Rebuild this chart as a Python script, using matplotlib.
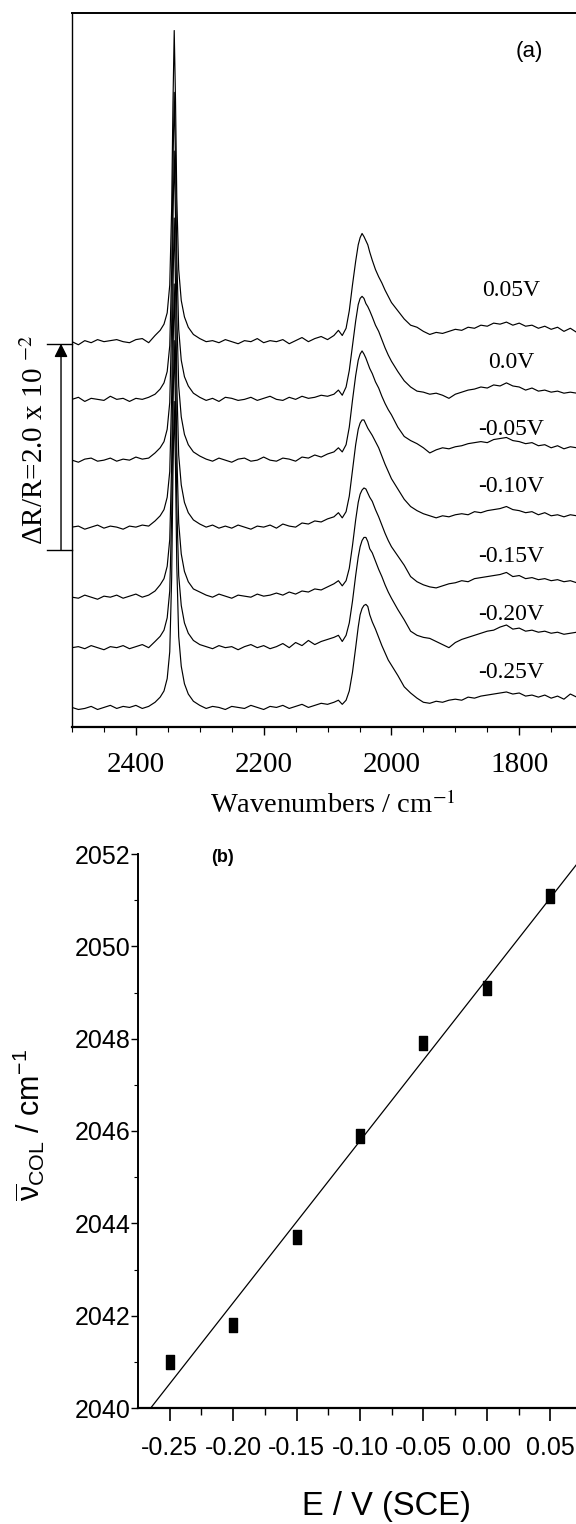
import numpy as np
import matplotlib
matplotlib.use("Agg")
import matplotlib.pyplot as plt
from matplotlib.path import Path
from matplotlib import transforms
from matplotlib.ticker import MultipleLocator, FixedLocator, FuncFormatter

plt.rcParams['axes.unicode_minus'] = False
plt.rcParams['mathtext.fontset'] = 'custom'
plt.rcParams['mathtext.rm'] = 'Liberation Sans'
plt.rcParams['mathtext.it'] = 'Liberation Sans:italic'
plt.rcParams['mathtext.bf'] = 'Liberation Sans:bold'

SERIF = ['Liberation Serif', 'DejaVu Serif']
SANS = ['Liberation Sans', 'DejaVu Sans']

# ---------------- panel (a): IR spectra, dR/R in units of 1e-4 ----------------
wavenumber = [2500, 2490, 2480, 2470, 2460, 2450, 2440, 2430, 2420, 2410, 2400, 2390, 2380, 2370,
              2362, 2356, 2351, 2347, 2344, 2342, 2340, 2338, 2336, 2333, 2329, 2324, 2318, 2310,
              2300, 2290, 2280, 2270, 2260, 2250, 2240, 2230, 2220, 2210, 2200, 2190, 2180, 2170,
              2160, 2150, 2140, 2130, 2120, 2110, 2100, 2090,
              2083, 2077, 2071, 2066, 2061, 2056, 2052, 2049, 2046, 2043, 2040, 2037, 2034, 2030,
              2025, 2020, 2015, 2010, 2005, 2000,
              1990, 1980, 1970, 1960, 1950, 1940, 1930, 1920, 1910, 1900, 1890, 1880, 1870, 1860,
              1850, 1840, 1830, 1820, 1810, 1800, 1790, 1780, 1770, 1760, 1750, 1740, 1730, 1720,
              1710, 1700]

spec_p005 = [0, -3, 1, -1, 2, 0, 1, 2, 0, -1, 2, 3, -1, 6,
             11, 17, 28, 55, 130, 230, 302, 235, 140, 70, 40, 24, 14, 7,
             3, 0, 1, -1, 2, 0, -2, 1, 0, 3, -1, 1, 0, 2, -2, 1, 4, 0, 3, 5, 2, 6,
             11, 6, 13, 30, 55, 78, 94, 101, 105, 102, 98, 94, 87, 79, 70, 63, 57, 50, 44, 38,
             30, 22, 16, 14, 10, 7, 9, 8, 10, 12, 11, 14, 13, 16, 15, 18, 17, 19, 16, 18,
             15, 16, 13, 15, 12, 14, 10, 13, 9, 11]
spec_000 = [0, 2, -2, 1, 0, -1, 3, 0, 1, -2, 1, 0, 2, 5,
            10, 16, 27, 52, 125, 225, 298, 232, 138, 68, 38, 22, 13, 6,
            2, -1, 1, -2, 2, 1, -1, 0, 2, -1, 1, 3, 0, -1, 2, 0, 3, 1, 2, 4, 3, 5,
            9, 4, 12, 28, 52, 76, 92, 98, 100, 98, 93, 90, 86, 80, 72, 66, 58, 50, 43, 37,
            27, 18, 12, 8, 7, 5, 6, 4, 1, 5, 7, 9, 10, 12, 11, 14, 13, 16, 13, 12,
            9, 11, 8, 9, 7, 8, 6, 7, 6, 7]
spec_m005 = [0, -2, 1, 2, -1, 0, 2, -1, 1, 0, 3, 1, 2, 7,
             12, 18, 30, 56, 132, 232, 300, 236, 142, 72, 42, 25, 15, 8,
             4, 1, -1, 2, 0, -2, 1, 2, -1, 0, 3, 0, -1, 2, 1, -1, 3, 2, 5, 3, 6, 8,
             12, 8, 15, 32, 58, 82, 97, 103, 106, 103, 99, 94, 89, 84, 76, 70, 62, 55, 49, 44,
             32, 23, 19, 16, 12, 7, 10, 12, 11, 13, 14, 16, 17, 18, 17, 20, 21, 22, 19, 18,
             16, 17, 14, 15, 12, 14, 11, 13, 12, 10]
spec_m010 = [0, 1, -2, 0, 2, -1, 1, 0, -2, 1, 0, 2, 1, 6,
             11, 17, 29, 54, 128, 230, 300, 235, 140, 70, 41, 24, 14, 7,
             3, 0, 2, -1, 1, -1, 2, 0, -2, 1, 0, 2, -1, 3, 1, 0, 4, 3, 6, 5, 8, 10,
             14, 9, 15, 30, 55, 80, 95, 101, 104, 104, 100, 96, 93, 89, 83, 77, 69, 61, 54, 47,
             37, 27, 20, 16, 13, 11, 9, 11, 10, 12, 13, 12, 15, 14, 16, 17, 18, 20, 17, 16,
             14, 15, 12, 14, 11, 12, 10, 12, 11, 10]
spec_m015 = [0, -1, 2, 0, -2, 1, 0, 2, -1, 1, 3, 0, 2, 6,
             12, 18, 30, 56, 130, 232, 304, 238, 142, 72, 42, 25, 15, 8,
             5, 2, 0, 3, 1, -1, 2, 1, 0, 3, 1, 2, 4, 2, 5, 3, 6, 5, 8, 7, 10, 13,
             16, 11, 16, 28, 50, 75, 92, 100, 104, 106, 105, 101, 97, 93, 85, 78, 70, 62, 55, 49,
             40, 31, 20, 15, 12, 10, 9, 11, 13, 14, 16, 15, 18, 19, 20, 21, 22, 24, 20, 21,
             18, 19, 17, 18, 16, 17, 15, 16, 14, 15]
spec_m020 = [0, 1, -1, 2, 0, -2, 1, 0, 2, -1, 1, 3, 0, 6,
             11, 17, 29, 55, 128, 228, 298, 233, 139, 70, 41, 24, 14, 7,
             3, 1, -1, 2, 0, 1, -2, 1, 3, 0, 2, -1, 1, 4, 0, 5, 2, 7, 3, 6, 8, 10,
             12, 6, 12, 24, 45, 70, 88, 98, 104, 107, 107, 103, 96, 92, 84, 76, 69, 61, 54, 48,
             37, 27, 16, 12, 10, 9, 6, 3, 0, 5, 8, 10, 12, 14, 16, 17, 20, 22, 18, 19,
             16, 17, 15, 16, 14, 15, 13, 14, 15, 14]
spec_m025 = [0, -2, -1, 1, -2, 0, 2, -1, 1, 0, 2, -1, 1, 5,
             10, 16, 28, 54, 126, 226, 297, 232, 138, 69, 40, 23, 13, 6,
             2, -1, 1, 0, -2, 1, 0, -1, 2, 0, -2, 1, 0, 2, -1, 1, 3, 0, 2, 4, 3, 5,
             7, 3, 7, 16, 34, 58, 78, 90, 96, 99, 100, 98, 90, 83, 76, 68, 60, 53, 46, 41,
             31, 20, 14, 9, 5, 4, 6, 5, 7, 8, 7, 10, 9, 11, 12, 13, 14, 15, 13, 14,
             11, 12, 10, 12, 9, 11, 8, 13, 10, 11]

spectra = [spec_p005, spec_000, spec_m005, spec_m010, spec_m015, spec_m020, spec_m025]
potential_labels = ['0.05V', '0.0V', '-0.05V', '-0.10V', '-0.15V', '-0.20V', '-0.25V']
stack_offsets = [374, 318, 259, 194, 126, 77, 19]
label_lift = [50, 36, 30, 39, 39, 32, 34]
scale_bottom = 172
scale_length = 200   # 2.0 x 10^-2
wn_ticks = [2400, 2200, 2000, 1800]

# ---------------- panel (b): CO band centre vs potential ----------------
potential = [-0.25, -0.20, -0.15, -0.10, -0.05, 0.00, 0.05]
nu_col = [2041.0, 2041.8, 2043.7, 2045.9, 2047.9, 2049.1, 2051.1]
fit_range = [-0.2647, 0.08]

fig = plt.figure(figsize=(5.76, 15.24), dpi=100)
W, H = 576.0, 1524.0

# ---- panel a ----
ax1 = fig.add_axes([72 / W, 1 - 727 / H, (647 - 72) / W, (727 - 13) / H])
for spec, off in zip(spectra, stack_offsets):
    ax1.plot(wavenumber, off + np.array(spec), color='k', lw=0.85)
for lab, off, dy in zip(potential_labels, stack_offsets, label_lift):
    ax1.text(1813, off + dy, lab, ha='center', va='center', fontsize=17, family=SERIF)

ax1.set_xlim(2500, 1600)
ax1.set_ylim(0, 693)
ax1.set_yticks([])
ax1.xaxis.set_major_locator(FixedLocator(wn_ticks))
ax1.xaxis.set_minor_locator(MultipleLocator(50))
ax1.tick_params(axis='x', which='major', direction='out', length=5.8, width=1.0,
                labelsize=21, pad=12, labelfontfamily='Liberation Serif')
ax1.tick_params(axis='x', which='minor', direction='out', length=3.6, width=0.8)
ax1.spines['right'].set_visible(False)
ax1.spines['bottom'].set_linewidth(1.6)
ax1.spines['top'].set_linewidth(1.4)
ax1.spines['left'].set_linewidth(1.0)

# scale bar left of the axis
trans = transforms.blended_transform_factory(ax1.transAxes, ax1.transData)
bar_x = -0.0191
ax1.annotate('', xy=(bar_x, scale_bottom + scale_length), xytext=(bar_x, scale_bottom),
             xycoords=trans, textcoords=trans, annotation_clip=False,
             arrowprops=dict(arrowstyle='-|>,head_length=0.4,head_width=0.2', color='k',
                             lw=1.0, mutation_scale=20, shrinkA=0, shrinkB=0))
for yy in (scale_bottom, scale_bottom + scale_length):
    ax1.plot([-0.0435, 0], [yy, yy], color='k', lw=1.0, transform=trans, clip_on=False)

fig.text(35 / W, 1 - 440 / H, r'ΔR/R=2.0 x 10 $^{-2}$', rotation=90, ha='center', va='center',
         fontsize=21, family=SERIF, math_fontfamily='stix')
fig.text(333 / W, 1 - 805 / H, r'Wavenumbers / cm$^{-1}$', ha='center', va='center',
         fontsize=20.5, family=SERIF, math_fontfamily='stix')
fig.text(529 / W, 1 - 52 / H, '(a)', ha='center', va='center', fontsize=16, family=SANS)

# ---- panel b ----
ax2 = fig.add_axes([138 / W, 1 - 1408 / H, (582 - 138) / W, (1408 - 854) / H])
coef = np.polyfit(potential, nu_col, 1)
xs = np.array(fit_range)
ax2.plot(xs, np.polyval(coef, xs), color='k', lw=0.9)
rect = Path([(-0.28, -0.5), (0.28, -0.5), (0.28, 0.5), (-0.28, 0.5), (-0.28, -0.5)],
            [Path.MOVETO, Path.LINETO, Path.LINETO, Path.LINETO, Path.CLOSEPOLY])
ax2.plot(potential, nu_col, linestyle='none', marker=rect, ms=9.4, color='k', clip_on=False)

ax2.set_xlim(-0.275, 0.075)
ax2.set_ylim(2040, 2052)
ax2.xaxis.set_major_locator(FixedLocator(potential))
ax2.xaxis.set_minor_locator(FixedLocator([-0.225, -0.175, -0.125, -0.075, -0.025, 0.025]))
ax2.xaxis.set_major_formatter(FuncFormatter(lambda v, p: '%.2f' % v if abs(v) > 1e-9 else '0.00'))
ax2.yaxis.set_major_locator(MultipleLocator(2))
ax2.yaxis.set_minor_locator(MultipleLocator(1))
ax2.tick_params(axis='x', which='major', direction='out', length=9.4, width=1.2,
                labelsize=18, pad=11, labelfontfamily='Liberation Sans')
ax2.tick_params(axis='x', which='minor', direction='out', length=5, width=1.0)
ax2.tick_params(axis='y', which='major', direction='out', length=5, width=1.0,
                labelsize=18, pad=0.5, labelfontfamily='Liberation Sans')
ax2.tick_params(axis='y', which='minor', direction='out', length=3, width=0.8)
ax2.spines['top'].set_visible(False)
ax2.spines['right'].set_visible(False)
ax2.spines['left'].set_linewidth(1.4)
ax2.spines['bottom'].set_linewidth(1.6)

fig.text(222 / W, 1 - 857 / H, '(b)', ha='center', va='center', fontsize=13,
         fontweight='bold', family=SANS)
fig.text(386 / W, 1 - 1507 / H, 'E / V (SCE)', ha='center', va='center', fontsize=23.5, family=SANS)
fig.text(29 / W, 1 - 1125 / H, r'$\overline{\mathrm{\nu}}_{\mathrm{COL}}$ / cm$^{-1}$', rotation=90,
         ha='center', va='center', fontsize=22, family=SANS, math_fontfamily='custom')

fig.savefig('out.png', dpi=100)
